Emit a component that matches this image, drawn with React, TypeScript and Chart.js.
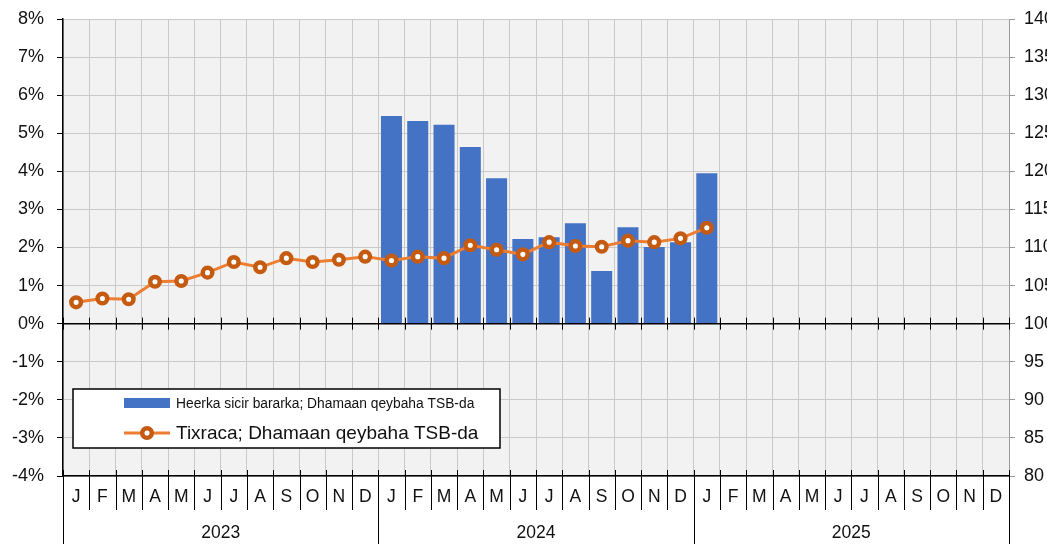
import React, { useEffect, useRef } from "react";
import { Chart, registerables } from "chart.js";

Chart.register(...registerables);

const months = ["J", "F", "M", "A", "M", "J", "J", "A", "S", "O", "N", "D"];
const years = ["2023", "2024", "2025"];
const categories = years.flatMap((y) => months.map((m, i) => `${y}-${i + 1}`));

// Annual inflation (%), left axis
const inflation2023 = [null, null, null, null, null, null, null, null, null, null, null, null];
const inflation2024 = [5.45, 5.32, 5.22, 4.64, 3.82, 2.22, 2.27, 2.64, 1.38, 2.53, 2.01, 2.14];
const inflation2025 = [3.95, null, null, null, null, null, null, null, null, null, null, null];

// Index values, right axis
const index2023 = [102.8, 103.3, 103.2, 105.5, 105.6, 106.7, 108.1, 107.4, 108.6, 108.1, 108.4, 108.8];
const index2024 = [108.3, 108.8, 108.6, 110.3, 109.7, 109.1, 110.7, 110.2, 110.1, 110.9, 110.7, 111.2];
const index2025 = [112.6, null, null, null, null, null, null, null, null, null, null, null];

const leftTicks = { min: -4, max: 8, step: 1 };
const rightTicks = { min: 80, max: 140, step: 5 };

const barLabel = "Heerka sicir bararka; Dhamaan qeybaha TSB-da";
const lineLabel = "Tixraca; Dhamaan qeybaha TSB-da";

const FONT = "'Liberation Sans', Arial, sans-serif";
const BLUE = "#4472C4";
const ORANGE = "#ED7D31";
const DARK_ORANGE = "#C55A11";

const customPlugin = {
  id: "custom",
  beforeDraw(chart: any) {
    const { ctx, chartArea: a } = chart;
    ctx.save();
    ctx.fillStyle = "#F2F2F2";
    ctx.fillRect(a.left, a.top, a.right - a.left, a.bottom - a.top);
    ctx.restore();
  },
  afterDatasetsDraw(chart: any) {
    const { ctx, chartArea: a } = chart;
    const x = chart.scales.x;
    const yl = chart.scales.y;
    const n = categories.length;
    const w = (a.right - a.left) / n;
    const y0 = yl.getPixelForValue(0);
    ctx.save();
    ctx.strokeStyle = "#000";
    ctx.lineWidth = 1.5;
    ctx.beginPath();
    ctx.moveTo(a.left, y0);
    ctx.lineTo(a.right, y0);
    ctx.stroke();
    ctx.lineWidth = 1;
    for (let i = 0; i <= n; i++) {
      const px = Math.round(x.getPixelForValue(0) - w / 2 + i * w) + 0.5;
      ctx.beginPath();
      ctx.moveTo(px, y0 - 6);
      ctx.lineTo(px, y0 + 6);
      ctx.stroke();
    }
    ctx.restore();
  },
  afterDraw(chart: any) {
    const { ctx, chartArea: a } = chart;
    const x = chart.scales.x;
    const n = categories.length;
    const w = (a.right - a.left) / n;
    const start = x.getPixelForValue(0) - w / 2;
    ctx.save();
    // separators and month / year labels
    ctx.strokeStyle = "#000";
    ctx.lineWidth = 1;
    for (let i = 0; i <= n; i++) {
      const px = Math.round(start + i * w) + 0.5;
      const isYear = i % 12 === 0;
      ctx.beginPath();
      ctx.moveTo(px, a.bottom - 6);
      ctx.lineTo(px, isYear ? 544 : a.bottom + 34);
      ctx.stroke();
    }
    ctx.fillStyle = "#111";
    ctx.textAlign = "center";
    ctx.textBaseline = "middle";
    ctx.font = `17.5px ${FONT}`;
    for (let i = 0; i < n; i++) {
      const cx = x.getPixelForValue(i);
      ctx.fillText(months[i % 12], cx, a.bottom + 21);
    }
    years.forEach((yr, k) => {
      const cx = start + (k * 12 + 6) * w;
      ctx.fillText(yr, cx, a.bottom + 57);
    });

    // legend
    const lx = 73, ly = 389, lw = 427, lh = 59;
    ctx.fillStyle = "#fff";
    ctx.fillRect(lx, ly, lw, lh);
    ctx.strokeStyle = "#000";
    ctx.lineWidth = 1.5;
    ctx.strokeRect(lx, ly, lw, lh);
    ctx.fillStyle = BLUE;
    ctx.fillRect(124, 398, 46, 10);
    ctx.fillStyle = "#111";
    ctx.textAlign = "left";
    ctx.font = `13.8px ${FONT}`;
    ctx.fillText(barLabel, 176, 404);
    ctx.strokeStyle = ORANGE;
    ctx.lineWidth = 3;
    ctx.beginPath();
    ctx.moveTo(124, 433);
    ctx.lineTo(170, 433);
    ctx.stroke();
    ctx.beginPath();
    ctx.arc(147, 433, 4.8, 0, Math.PI * 2);
    ctx.fillStyle = "#fff";
    ctx.fill();
    ctx.strokeStyle = DARK_ORANGE;
    ctx.lineWidth = 4.5;
    ctx.stroke();
    ctx.fillStyle = "#111";
    ctx.font = `19px ${FONT}`;
    ctx.fillText(lineLabel, 176, 434);
    ctx.restore();
  },
};

const noVerticalPadding = (s: any, width: number) => {
  s.width = width;
  s.paddingTop = 0;
  s.paddingBottom = 0;
};

export default function App() {
  const ref = useRef<HTMLCanvasElement | null>(null);
  useEffect(() => {
    if (!ref.current) return;
    const chart = new Chart(ref.current, {
      type: "bar",
      data: {
        labels: categories,
        datasets: [
          {
            type: "line",
            label: lineLabel,
            data: [...index2023, ...index2024, ...index2025],
            yAxisID: "y1",
            borderColor: ORANGE,
            borderWidth: 3,
            pointRadius: 4.8,
            pointBorderWidth: 4.5,
            pointBorderColor: DARK_ORANGE,
            pointBackgroundColor: "#fff",
            spanGaps: false,
            order: 0,
          } as any,
          {
            type: "bar",
            label: barLabel,
            data: [...inflation2023, ...inflation2024, ...inflation2025],
            yAxisID: "y",
            backgroundColor: BLUE,
            barPercentage: 0.8,
            categoryPercentage: 1,
            order: 1,
          },
        ],
      },
      options: {
        responsive: false,
        animation: false,
        devicePixelRatio: 1,
        layout: { padding: { top: 19, left: 0, right: 0, bottom: 0 } },
        plugins: { legend: { display: false }, tooltip: { enabled: false } },
        scales: {
          x: {
            ticks: { display: false },
            grid: { offset: true, color: "#C9C9C9", drawTicks: false },
            border: { color: "#000", width: 1.5 },
            afterFit: (s: any) => {
              s.height = 68;
            },
          },
          y: {
            position: "left",
            min: leftTicks.min,
            max: leftTicks.max,
            ticks: {
              stepSize: leftTicks.step,
              callback: (v: any) => `${v}%`,
              color: "#111",
              font: { family: FONT, size: 18 },
              padding: 13,
            },
            grid: {
              color: (c: any) => (c.tick && c.tick.value === 0 ? "#000" : "#C9C9C9"),
              tickColor: "#000",
              tickLength: 6,
            },
            border: { color: "#000", width: 1.5 },
            afterFit: (s: any) => noVerticalPadding(s, 63),
          },
          y1: {
            position: "right",
            min: rightTicks.min,
            max: rightTicks.max,
            ticks: {
              stepSize: rightTicks.step,
              color: "#111",
              font: { family: FONT, size: 18 },
              padding: 9,
            },
            grid: { drawOnChartArea: false, tickColor: "#999", tickLength: 6 },
            border: { color: "#999", width: 1 },
            afterFit: (s: any) => noVerticalPadding(s, 38),
          },
        },
      },
      plugins: [customPlugin],
    });
    return () => chart.destroy();
  }, []);
  return (
    <div style={{ position: "absolute", left: 0, top: 0, width: 1047, height: 544, background: "#fff" }}>
      <canvas ref={ref} width={1047} height={544} />
    </div>
  );
}
